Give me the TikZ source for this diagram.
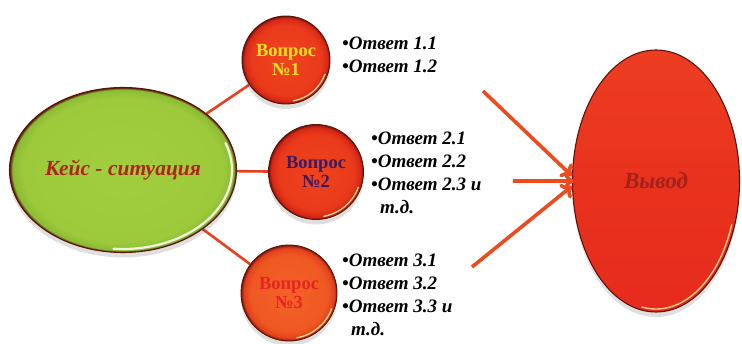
\documentclass[tikz,border=0pt]{standalone}
\usepackage{fontspec}
\setmainfont{Liberation Serif}
\usetikzlibrary{arrows.meta,shadows,shapes.geometric,backgrounds}
\definecolor{linkred}{HTML}{EA3F1D}
\definecolor{arrred}{HTML}{EE4A1E}
\definecolor{edgebrown}{HTML}{5A140C}
\definecolor{qyellow}{HTML}{F6E21A}
\definecolor{qnavy}{HTML}{3A1D66}
\definecolor{qred}{HTML}{E42626}
\definecolor{caseText}{HTML}{B0241E}
\definecolor{outText}{HTML}{A3221C}
\definecolor{glint}{HTML}{FFF3A0}
\pgfdeclareradialshading{greenball}{\pgfpoint{0bp}{0bp}}{color(0bp)=(rgb,255:red,160;green,206;blue,62); color(22bp)=(rgb,255:red,156;green,202;blue,59); color(24.3bp)=(rgb,255:red,140;green,188;blue,52); color(25bp)=(rgb,255:red,90;green,20;blue,12); color(50bp)=(rgb,255:red,90;green,20;blue,12)}
\pgfdeclareradialshading{redball}{\pgfpoint{0bp}{0bp}}{color(0bp)=(rgb,255:red,238;green,68;blue,30); color(20bp)=(rgb,255:red,234;green,58;blue,27); color(23.5bp)=(rgb,255:red,215;green,40;blue,22); color(24.6bp)=(rgb,255:red,160;green,25;blue,15); color(25bp)=(rgb,255:red,90;green,20;blue,12); color(50bp)=(rgb,255:red,90;green,20;blue,12)}
\pgfdeclareradialshading{orangeball}{\pgfpoint{0bp}{0bp}}{color(0bp)=(rgb,255:red,243;green,98;blue,38); color(20bp)=(rgb,255:red,239;green,88;blue,34); color(23.5bp)=(rgb,255:red,225;green,66;blue,28); color(24.6bp)=(rgb,255:red,165;green,35;blue,15); color(25bp)=(rgb,255:red,90;green,20;blue,12); color(50bp)=(rgb,255:red,90;green,20;blue,12)}
\pgfdeclareverticalshading{redoval}{100bp}{color(0bp)=(rgb,255:red,228;green,36;blue,30); color(50bp)=(rgb,255:red,233;green,50;blue,30); color(100bp)=(rgb,255:red,239;green,72;blue,34)}
\tikzset{
  link/.style={draw=linkred, line width=2.6pt},
  flow/.style={draw=arrred, line width=3.6pt, -{To[length=10pt,width=18pt,line width=3.6pt]}},
  softshadow/.style={drop shadow={shadow xshift=0pt, shadow yshift=-5pt, opacity=0.18, fill=black!70}},
  ballbase/.style={circle, draw=edgebrown, line width=0.9pt, inner sep=0pt, minimum size=#1, softshadow},
  q/.style={font=\fontsize{18.5}{19}\selectfont\bfseries, align=center},
  ans/.style={font=\fontsize{19}{23}\selectfont\bfseries\itshape, align=left, anchor=north west, inner sep=0pt},
  gloss/.style={draw=glint, line width=1.4pt, opacity=0.8, line cap=round}
}
\begin{document}
\begin{tikzpicture}[x=1pt,y=-1pt]
\useasboundingbox (0,0) rectangle (742,344);
% case ellipse
\node[draw=edgebrown, line width=1.1pt, shape=ellipse, minimum width=227pt, minimum height=165pt, inner sep=0pt,
  shading=greenball, softshadow] (case) at (123,170) {};
\draw[draw=white, line width=2.2pt, opacity=0.85, line cap=round] ([shift={(-95:109pt and 79pt)}]case.center) arc[start angle=-95, end angle=20, x radius=109pt, y radius=79pt];
\node[font=\fontsize{21.5}{22}\selectfont\bfseries\itshape, text=caseText] (caselbl) at (case.center) {Кейс - ситуация};
% question circles
\node[ballbase=88pt, shading=redball] (q1) at (286,60) {};
\draw[gloss] ([shift={(-80:41.5pt)}]q1.center) arc[start angle=-80, end angle=-20, radius=41.5pt];
\node[q, text=qyellow] (q1l) at (q1.center) {Вопрос\\№1};
\node[ballbase=95pt, shading=redball] (q2) at (316,172) {};
\draw[gloss] ([shift={(-80:45pt)}]q2.center) arc[start angle=-80, end angle=-20, radius=45pt];
\node[q, text=qnavy] (q2l) at (q2.center) {Вопрос\\№2};
\node[ballbase=96pt, shading=orangeball] (q3) at (289,293) {};
\draw[gloss] ([shift={(-80:45.5pt)}]q3.center) arc[start angle=-80, end angle=-20, radius=45.5pt];
\node[q, text=qred] (q3l) at (q3.center) {Вопрос\\№3};
% conclusion ellipse
\node[shape=ellipse, draw=edgebrown, line width=1.1pt, minimum width=167pt, minimum height=262pt, inner sep=0pt,
  shading=redoval, softshadow] (out) at (656,181) {};
\draw[gloss] ([shift={(-100:80.5pt and 128pt)}]out.center) arc[start angle=-100, end angle=-20, x radius=80.5pt, y radius=128pt];
\node[font=\fontsize{23}{23}\selectfont\bfseries\itshape, text=outText] (outl) at (out.center) {Вывод};
% links
\begin{scope}[on background layer]
\draw[link] (case) -- (q1);
\draw[link] (case) -- (q2);
\draw[link] (case) -- (q3);
\end{scope}
% answers
\node[ans] (a1) at (342,37) {•Ответ 1.1\\•Ответ 1.2};
\node[ans] (a2) at (371,132) {•Ответ 2.1\\•Ответ 2.2\\•Ответ 2.3 и\\\hspace*{9pt}т.д.};
\node[ans] (a3) at (342,254) {•Ответ 3.1\\•Ответ 3.2\\•Ответ 3.3 и\\\hspace*{9pt}т.д.};
% arrows
\coordinate (s1) at (483,91);
\coordinate (s2) at (513,181);
\coordinate (s3) at (472,267);
\coordinate (t1) at (572,176);
\coordinate (t2) at (574,181);
\coordinate (t3) at (572,186);
\draw[flow] (s1) -- (t1);
\draw[flow] (s2) -- (t2);
\draw[flow] (s3) -- (t3);
\end{tikzpicture}
\end{document}
